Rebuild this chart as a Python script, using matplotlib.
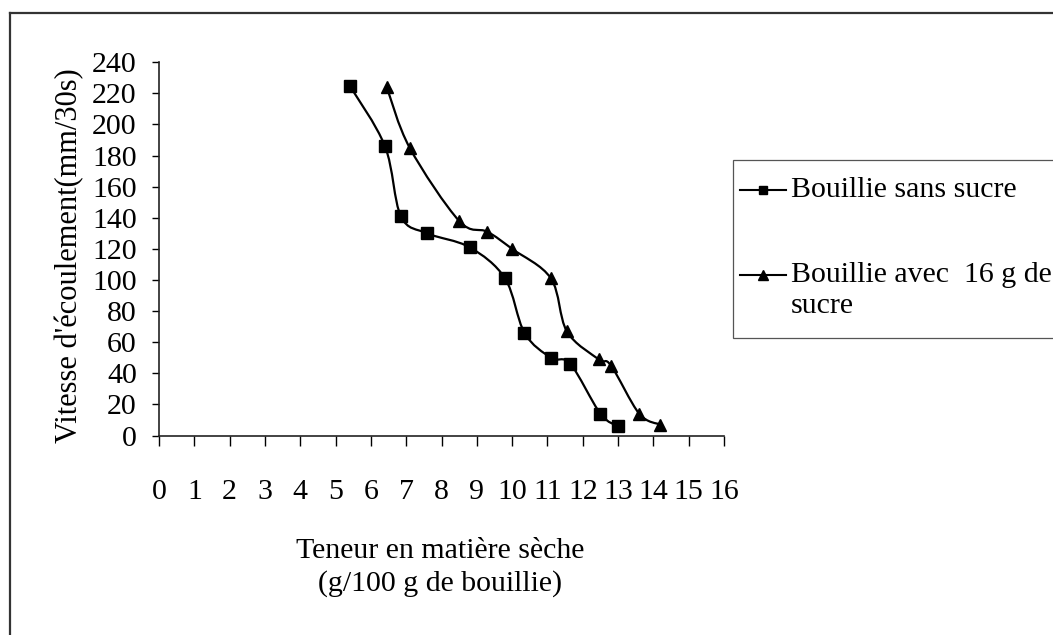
import matplotlib
matplotlib.use("Agg")
import matplotlib.pyplot as plt
from matplotlib.path import Path
from matplotlib.patches import PathPatch, Rectangle
from matplotlib.lines import Line2D

plt.rcParams['font.family'] = ['Liberation Serif', 'DejaVu Serif']

# donnees
x_sans = [5.4, 6.4, 6.85, 7.6, 8.8, 9.8, 10.35, 11.1, 11.65, 12.5, 13.0]
y_sans = [225, 186, 141, 130, 121, 101, 66, 50, 46, 14, 6]
x_avec = [6.45, 7.1, 8.5, 9.3, 10.0, 11.1, 11.55, 12.45, 12.8, 13.6, 14.2]
y_avec = [224, 185, 138, 131, 120, 101, 67, 49, 45, 14, 7]

lab_sans = "Bouillie sans sucre"
lab_avec = "Bouillie avec  16 g de\nsucre"
xticks = list(range(0, 17))
yticks = list(range(0, 241, 20))

FS = 21.5


def smooth_path(xs, ys):
    # courbe lissee type tableur (bezier)
    pts = list(zip(xs, ys))
    n = len(pts)
    verts = [pts[0]]
    codes = [Path.MOVETO]
    for i in range(n - 1):
        p0 = pts[i - 1] if i > 0 else pts[i]
        p1 = pts[i]
        p2 = pts[i + 1]
        p3 = pts[i + 2] if i + 2 < n else pts[i + 1]
        c1 = (p1[0] + (p2[0] - p0[0]) / 6, p1[1] + (p2[1] - p0[1]) / 6)
        c2 = (p2[0] - (p3[0] - p1[0]) / 6, p2[1] - (p3[1] - p1[1]) / 6)
        verts += [c1, c2, p2]
        codes += [Path.CURVE4] * 3
    return Path(verts, codes)


fig = plt.figure(figsize=(10.53, 6.35), dpi=100)
W, H = 1053, 635
ax = fig.add_axes([159 / W, 1 - 435.5 / H, 565 / W, 373.2 / H])

ax.add_patch(PathPatch(smooth_path(x_sans, y_sans), fc='none', ec='black', lw=1.6))
ax.add_patch(PathPatch(smooth_path(x_avec, y_avec), fc='none', ec='black', lw=1.6))
ax.plot(x_sans, y_sans, ls='none', marker='s', ms=8, color='black')
ax.plot(x_avec, y_avec, ls='none', marker='^', ms=9, color='black')

ax.set_xlim(0, 16)
ax.set_ylim(0, 240)
ax.set_xticks(xticks)
ax.set_yticks(yticks)
ax.tick_params(axis='x', direction='out', length=7, width=1, pad=24, labelsize=FS, colors='black')
ax.tick_params(axis='y', direction='out', length=5, width=1, pad=11, labelsize=FS, colors='black')
for s in ['top', 'right']:
    ax.spines[s].set_visible(False)
for s in ['left', 'bottom']:
    ax.spines[s].set_linewidth(1.2)
    ax.spines[s].set_color('#222222')

fig.text(440 / W, 1 - 551 / H, "Teneur en matière sèche", ha='center', va='center', fontsize=FS)
fig.text(440 / W, 1 - 584 / H, "(g/100 g de bouillie)", ha='center', va='center', fontsize=FS)
fig.text(70 / W, 1 - 256 / H, "Vitesse d'écoulement(mm/30s)", rotation=90,
         ha='center', va='center', fontsize=22)

# cadre exterieur (coupe a droite et en bas)
fig.add_artist(Line2D([10 / W, 10 / W], [1 - 13 / H, 0], transform=fig.transFigure,
                      color='#333333', lw=1.6))
fig.add_artist(Line2D([10 / W, 1], [1 - 13 / H, 1 - 13 / H], transform=fig.transFigure,
                      color='#333333', lw=1.6))

# legende
fig.add_artist(Rectangle((733 / W, 1 - 338 / H), 400 / W, 178 / H, transform=fig.transFigure,
                         fc='white', ec='#555555', lw=0.9))
fig.add_artist(Line2D([740 / W, 786 / W], [1 - 190 / H] * 2, transform=fig.transFigure,
                      color='black', lw=1.5))
fig.add_artist(Line2D([763 / W], [1 - 190 / H], transform=fig.transFigure, color='black',
                      marker='s', ms=6, ls='none'))
fig.add_artist(Line2D([740 / W, 786 / W], [1 - 275 / H] * 2, transform=fig.transFigure,
                      color='black', lw=1.5))
fig.add_artist(Line2D([763 / W], [1 - 275 / H], transform=fig.transFigure, color='black',
                      marker='^', ms=7, ls='none'))
fig.text(791 / W, 1 - 190 / H, lab_sans, ha='left', va='center', fontsize=FS)
fig.text(791 / W, 1 - 275 / H, lab_avec.split("\n")[0], ha='left', va='center', fontsize=FS)
fig.text(791 / W, 1 - 306 / H, lab_avec.split("\n")[1], ha='left', va='center', fontsize=FS)

fig.savefig("out.png", dpi=100)
